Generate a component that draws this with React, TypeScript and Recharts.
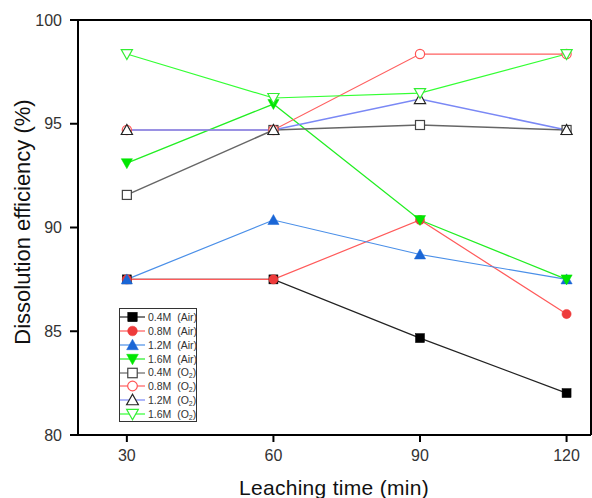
import React from 'react';
import { LineChart, Line, XAxis, YAxis, ReferenceLine } from 'recharts';

// leaching time (min)
const leachingTimes = [30, 60, 90, 120];

// dissolution efficiency (%) per acid concentration, leached in air
const air04 = [87.5, 87.5, 84.67, 82.02];
const air08 = [87.5, 87.5, 90.36, 85.83];
const air12 = [87.5, 90.36, 88.7, 87.5];
const air16 = [93.1, 95.95, 90.36, 87.5];

// dissolution efficiency (%) per acid concentration, leached under O2
const o2_04 = [91.57, 94.7, 94.94, 94.7];
const o2_08 = [94.7, 94.7, 98.36, 98.36];
const o2_12 = [94.7, 94.7, 96.19, 94.7];
const o2_16 = [98.36, 96.24, 96.48, 98.36];

const xTicks = [30, 60, 90, 120];
const yTicks = [80, 85, 90, 95, 100];

type Shape = 'square' | 'circle' | 'up' | 'down';

interface Series {
  key: string;
  conc: string;
  gas: 'Air' | 'O2';
  values: number[];
  shape: Shape;
  filled: boolean;
  line: string;
  lineWidth: number;
  marker: string;
}

const series: Series[] = [
  { key: 'a04', conc: '0.4M', gas: 'Air', values: air04, shape: 'square', filled: true, line: '#222222', lineWidth: 1.2, marker: '#000000' },
  { key: 'a08', conc: '0.8M', gas: 'Air', values: air08, shape: 'circle', filled: true, line: '#ff5a5a', lineWidth: 1.2, marker: '#ee3b3b' },
  { key: 'a12', conc: '1.2M', gas: 'Air', values: air12, shape: 'up', filled: true, line: '#4a8fe8', lineWidth: 1.2, marker: '#1a66d6' },
  { key: 'a16', conc: '1.6M', gas: 'Air', values: air16, shape: 'down', filled: true, line: '#22ee22', lineWidth: 1.3, marker: '#00e600' },
  { key: 'o04', conc: '0.4M', gas: 'O2', values: o2_04, shape: 'square', filled: false, line: '#666666', lineWidth: 1.5, marker: '#444444' },
  { key: 'o08', conc: '0.8M', gas: 'O2', values: o2_08, shape: 'circle', filled: false, line: '#ff6060', lineWidth: 1.2, marker: '#ff5555' },
  { key: 'o12', conc: '1.2M', gas: 'O2', values: o2_12, shape: 'up', filled: false, line: '#7a88f5', lineWidth: 1.6, marker: '#222222' },
  { key: 'o16', conc: '1.6M', gas: 'O2', values: o2_16, shape: 'down', filled: false, line: '#33ff33', lineWidth: 1.2, marker: '#33ee33' },
];

const data = leachingTimes.map((t, i) => {
  const row: { [k: string]: number } = { time: t };
  series.forEach((s) => {
    row[s.key] = s.values[i];
  });
  return row;
});

const FONT = '"Liberation Sans", Arial, sans-serif';

function Marker({ shape, filled, color, cx, cy, scale = 1 }: { shape: Shape; filled: boolean; color: string; cx: number; cy: number; scale?: number }) {
  const fill = filled ? color : '#ffffff';
  const sw = filled ? 0.5 : 1.2;
  if (shape === 'square') {
    const s = 9 * scale;
    return <rect x={cx - s / 2} y={cy - s / 2} width={s} height={s} fill={fill} stroke={color} strokeWidth={sw} />;
  }
  if (shape === 'circle') {
    return <circle cx={cx} cy={cy} r={4.6 * scale} fill={fill} stroke={color} strokeWidth={sw} />;
  }
  const w = 5.6 * scale;
  const a = 5.5 * scale;
  const b = 4.5 * scale;
  const pts =
    shape === 'up'
      ? `${cx},${cy - a} ${cx - w},${cy + b} ${cx + w},${cy + b}`
      : `${cx},${cy + a} ${cx - w},${cy - b} ${cx + w},${cy - b}`;
  return <polygon points={pts} fill={fill} stroke={color} strokeWidth={sw} strokeLinejoin="miter" />;
}

const renderDot = (s: Series) => (props: any) => {
  const { cx, cy, index } = props;
  return <Marker key={`${s.key}-${index}`} shape={s.shape} filled={s.filled} color={s.marker} cx={cx} cy={cy} />;
};

function LegendBox() {
  return (
    <div
      style={{
        position: 'absolute',
        left: 119,
        top: 308,
        width: 78,
        height: 114,
        border: '1px solid #333',
        background: '#fff',
        fontFamily: FONT,
        fontSize: 10.5,
        color: '#333',
        boxSizing: 'border-box',
        paddingTop: 1,
      }}
    >
      {series.map((s) => (
        <div key={s.key} style={{ display: 'flex', alignItems: 'center', height: 13.9 }}>
          <svg width={27} height={14} style={{ flex: 'none' }}>
            <line x1={0} y1={7} x2={25} y2={7} stroke={s.line} strokeWidth={1.2} />
            <Marker shape={s.shape} filled={s.filled} color={s.marker} cx={12.5} cy={7} scale={1.05} />
          </svg>
          <span style={{ marginLeft: 1, whiteSpace: 'nowrap' }}>
            {s.conc}&nbsp;&nbsp;(
            {s.gas === 'Air' ? (
              'Air'
            ) : (
              <>
                O<sub style={{ fontSize: 7, verticalAlign: -2 }}>2</sub>
              </>
            )}
            )
          </span>
        </div>
      ))}
    </div>
  );
}

export default function App() {
  return (
    <div style={{ position: 'absolute', left: 0, top: 0, width: 592, height: 498, background: '#fff', overflow: 'hidden' }}>
      <LineChart width={592} height={498} data={data} margin={{ top: 20, right: 1, left: 0, bottom: 0 }}>
        <XAxis
          dataKey="time"
          type="number"
          domain={[20, 125]}
          ticks={xTicks}
          height={63}
          tickSize={7}
          tickMargin={8}
          axisLine={{ stroke: '#000', strokeWidth: 2 }}
          tickLine={{ stroke: '#000', strokeWidth: 2 }}
          tick={{ fill: '#333', fontSize: 16, fontFamily: FONT }}
          label={{
            content: () => (
              <text x={334} y={495} textAnchor="middle" fontSize={21} fontFamily={FONT} fill="#111" letterSpacing={0.3}>
                Leaching time (min)
              </text>
            ),
          }}
        />
        <YAxis
          type="number"
          domain={[80, 100]}
          ticks={yTicks}
          width={78}
          tickSize={8}
          tickMargin={8}
          axisLine={{ stroke: '#000', strokeWidth: 2 }}
          tickLine={{ stroke: '#000', strokeWidth: 2 }}
          tick={{ fill: '#333', fontSize: 16, fontFamily: FONT }}
          label={{
            content: () => (
              <text
                x={22}
                y={222}
                transform="rotate(-90, 22, 222)"
                textAnchor="middle"
                dominantBaseline="central"
                fontSize={22}
                fontFamily={FONT}
                fill="#111"
              >
                Dissolution efficiency (%)
              </text>
            ),
          }}
        />
        <ReferenceLine y={100} stroke="#000" strokeWidth={2} />
        <ReferenceLine x={125} stroke="#000" strokeWidth={2} />
        {series.map((s) => (
          <Line
            key={s.key}
            dataKey={s.key}
            stroke={s.line}
            strokeWidth={s.lineWidth}
            dot={renderDot(s)}
            activeDot={false}
            isAnimationActive={false}
          />
        ))}
      </LineChart>
      <LegendBox />
    </div>
  );
}
